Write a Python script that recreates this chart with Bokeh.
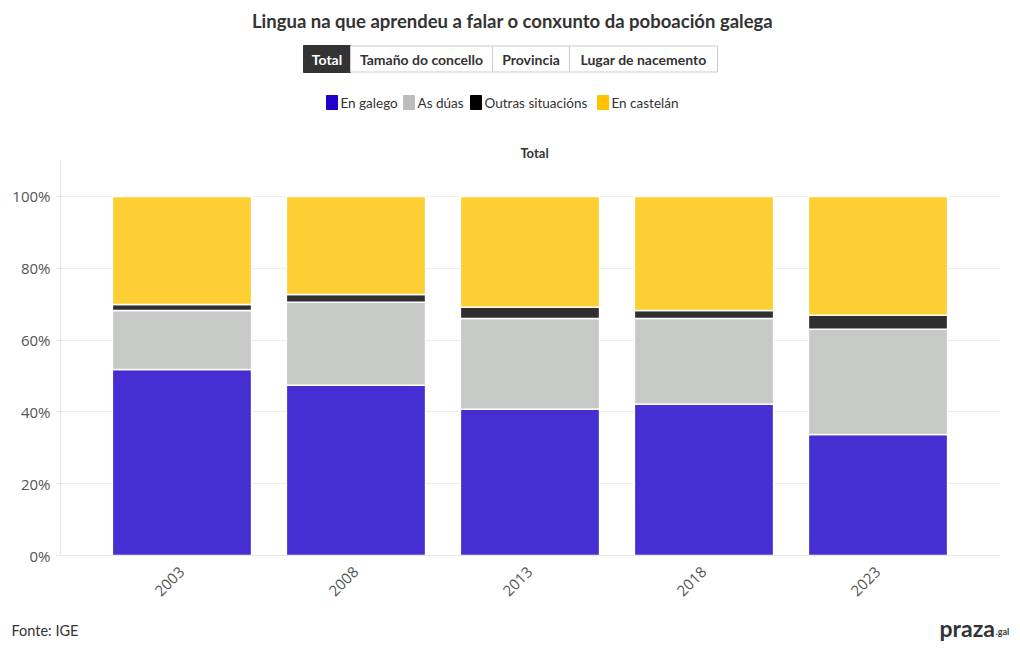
from math import pi
from bokeh.plotting import figure
from bokeh.layouts import column
from bokeh.models import Range1d, FixedTicker, ColumnDataSource
from bokeh.core.properties import value
from bokeh.embed import file_html
from bokeh.resources import INLINE

# ---- data ----
anos = ["2003", "2008", "2013", "2018", "2023"]
galego = [51.8, 47.4, 40.7, 42.1, 33.7]
duas = [16.4, 23.1, 25.3, 23.9, 29.3]
outras = [1.7, 2.2, 3.1, 2.2, 3.9]
castelan = [30.1, 27.3, 30.9, 31.8, 33.1]
series = ["galego", "duas", "outras", "castelan"]
serie_nomes = ["En galego", "As dúas", "Outras situacións", "En castelán"]
cores_barra = ["#452fd3", "#c6c9c6", "#2f2f2f", "#fdcf33"]
cores_lenda = ["#2200cc", "#bdbdbd", "#000000", "#ffc400"]
y_ticks = [0, 20, 40, 60, 80, 100]
botons = ["Total", "Tamaño do concello", "Provincia", "Lugar de nacemento"]
titulo = "Lingua na que aprendeu a falar o conxunto da poboación galega"
subtitulo = "Total"
fonte = "Fonte: IGE"

# ---- geometry (pixels) ----
W = 1012
HEAD_H = 160
MAIN_H = 455
FOOT_H = 27
FL, FR = 60, 1000
X0, X1 = -0.698, 4.704
Y0, Y1 = 0, 110
FONT = "Lato"


def panel(h):
    f = figure(width=W, height=h, x_range=Range1d(0, W), y_range=Range1d(h, 0),
               output_backend="svg", toolbar_location=None,
               x_axis_location=None, y_axis_location=None,
               min_border_left=0, min_border_right=0, min_border_top=0, min_border_bottom=0)
    f.frame_align = False
    f.outline_line_color = None
    f.xgrid.visible = False
    f.ygrid.visible = False
    f.border_fill_color = "white"
    f.background_fill_color = "white"
    return f


def txt(f, s, x, y, size, bold=False, color="#333333", align="center"):
    f.text(x=[x], y=[y], text=[s], text_font=value(FONT), text_font_size=value(f"{size}px"),
           text_font_style="bold" if bold else "normal", text_color=color,
           text_align=align, text_baseline="middle")


# ---- header ----
head = panel(HEAD_H)
txt(head, titulo, 512, 20, 18.5, bold=True)
bx = [(303, 350), (350, 492), (492, 569), (569, 717)]
for i, (nome, (l, r)) in enumerate(zip(botons, bx)):
    if i == 0:
        head.quad(left=[l], right=[r], top=[45], bottom=[72], fill_color="#333333",
                  line_color="#333333", line_width=1)
        txt(head, nome, (l + r) / 2, 58.5, 14, bold=True, color="white")
    else:
        head.quad(left=[l], right=[r], top=[45.5], bottom=[71.5], fill_color="white",
                  line_color="#cccccc", line_width=1)
        txt(head, nome, (l + r) / 2, 58.5, 14, bold=True, color="#333333")
sw = [326, 403, 470, 597]
for nome, cor, x0 in zip(serie_nomes, cores_lenda, sw):
    head.quad(left=[x0], right=[x0 + 11], top=[95], bottom=[109], fill_color=cor,
              line_color=cor, line_width=1)
    txt(head, nome, x0 + 14, 102, 13.5, align="left")
txt(head, subtitulo, 534, 152, 13, bold=True)

# ---- main chart ----
p = figure(width=W, height=MAIN_H, x_range=Range1d(X0, X1), y_range=Range1d(Y0, Y1),
           output_backend="svg", toolbar_location=None,
           min_border_left=FL, min_border_right=W - FR,
           min_border_top=0, min_border_bottom=MAIN_H - (555 - HEAD_H))
p.outline_line_color = None
p.background_fill_color = "white"
p.border_fill_color = "white"

src = ColumnDataSource(dict(x=list(range(len(anos))), galego=galego, duas=duas,
                            outras=outras, castelan=castelan))
p.vbar_stack(series, x="x", width=0.8, source=src, fill_color=cores_barra,
             line_color="white", line_width=1.5)

p.xaxis.ticker = FixedTicker(ticks=list(range(len(anos))))
p.xaxis.major_label_overrides = {i: a for i, a in enumerate(anos)}
p.xaxis.major_label_orientation = pi / 4
p.xaxis.axis_line_color = "#e6e6e6"
p.xaxis.major_tick_line_color = None
p.xaxis.minor_tick_line_color = None
p.xaxis.major_label_standoff = 8
p.xaxis.major_label_text_font = "Open Sans"
p.xaxis.major_label_text_font_size = "15px"
p.xaxis.major_label_text_color = "#555555"

p.yaxis.ticker = FixedTicker(ticks=y_ticks)
p.yaxis.major_label_overrides = {t: f"{t}%" for t in y_ticks}
p.yaxis.axis_line_color = "#e6e6e6"
p.yaxis.major_tick_line_color = "#e6e6e6"
p.yaxis.major_tick_in = 0
p.yaxis.major_tick_out = 5
p.yaxis.minor_tick_line_color = None
p.yaxis.major_label_standoff = 5
p.yaxis.major_label_text_font = "Open Sans"
p.yaxis.major_label_text_font_size = "15px"
p.yaxis.major_label_text_color = "#555555"

p.xgrid.grid_line_color = None
p.ygrid.grid_line_color = "#ececec"

# ---- footer ----
foot = panel(FOOT_H)
txt(foot, fonte, 11, 15, 14.5, align="left")
txt(foot, "praza", 939, 12, 23, bold=True, align="left")
txt(foot, ".gal", 995, 16, 9, bold=True, align="left")

layout = column(head, p, foot, spacing=0)
open("out.html", "w").write(file_html(layout, INLINE))
